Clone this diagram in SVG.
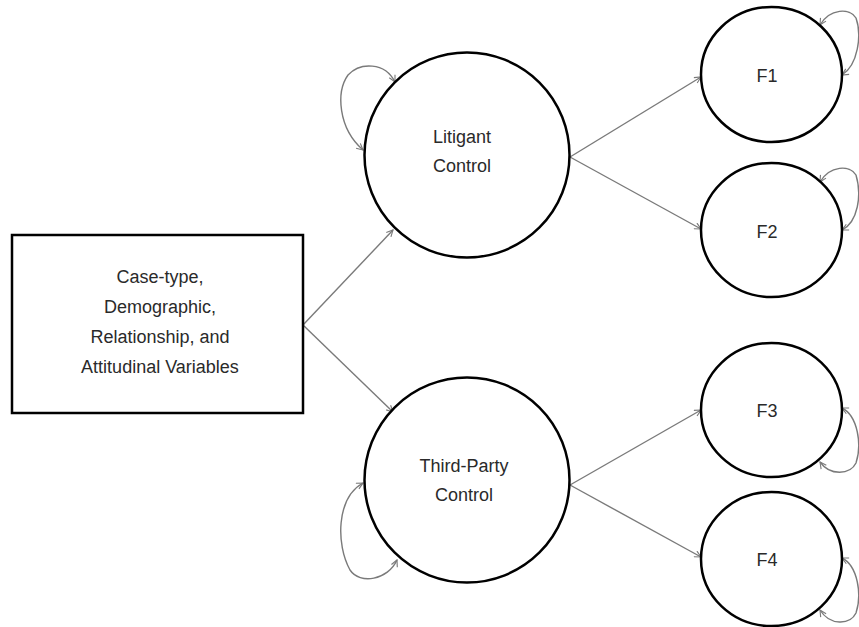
<svg xmlns="http://www.w3.org/2000/svg" width="859" height="627" viewBox="0 0 859 627">
<style>
.node{fill:#fff;stroke:#000;stroke-width:2.5}
.lbl{font-family:"Liberation Sans",Arial,sans-serif;font-size:18px;fill:#2a2a2a;text-anchor:middle}
.edge{fill:none;stroke:#7a7a7a;stroke-width:1.4}
</style>
<defs>
<marker id="ah" viewBox="0 0 10 10" refX="9" refY="5" markerWidth="8" markerHeight="8" markerUnits="userSpaceOnUse" orient="auto-start-reverse">
<path d="M1,1 L9,5 L1,9" fill="none" stroke="#7a7a7a" stroke-width="1.4"/>
</marker>
</defs>
<rect width="859" height="627" fill="#fff"/>
<g id="connectors">
<path class="edge" marker-end="url(#ah)" d="M303,325 L393,230"/>
<path class="edge" marker-end="url(#ah)" d="M303,325 L393,412"/>
<path class="edge" marker-end="url(#ah)" d="M570,157 L701,77"/>
<path class="edge" marker-end="url(#ah)" d="M570,157 L701,229"/>
<path class="edge" marker-end="url(#ah)" d="M570,485 L701,410"/>
<path class="edge" marker-end="url(#ah)" d="M570,485 L701,557"/>
<path class="edge" marker-start="url(#ah)" marker-end="url(#ah)" d="M395,82 C385,62 360,62 348,75 C336,92 338,128 363,150"/>
<path class="edge" marker-start="url(#ah)" marker-end="url(#ah)" d="M363,483 C336,498 336,545 350,570 C360,585 388,580 397,560"/>
<path class="edge" marker-start="url(#ah)" marker-end="url(#ah)" d="M820,25 C830,8 850,8 856,18 C862,35 858,65 842,75"/>
<path class="edge" marker-start="url(#ah)" marker-end="url(#ah)" d="M820,182 C830,165 850,165 856,175 C862,195 858,222 842,230"/>
<path class="edge" marker-start="url(#ah)" marker-end="url(#ah)" d="M842,408 C858,416 862,445 856,463 C850,475 830,476 820,462"/>
<path class="edge" marker-start="url(#ah)" marker-end="url(#ah)" d="M842,558 C858,566 862,595 856,613 C850,625 830,626 820,610"/>
</g>
<g id="source">
<rect class="node" x="12" y="235" width="291" height="178"/>
<text class="lbl" x="160" y="283">Case-type,</text>
<text class="lbl" x="160" y="313">Demographic,</text>
<text class="lbl" x="160" y="343">Relationship, and</text>
<text class="lbl" x="160" y="373">Attitudinal Variables</text>
</g>
<g id="litigant">
<circle class="node" cx="467" cy="155" r="102.5"/>
<text class="lbl" x="462" y="143">Litigant</text>
<text class="lbl" x="462" y="172">Control</text>
</g>
<g id="thirdparty">
<circle class="node" cx="467" cy="480" r="102.5"/>
<text class="lbl" x="464" y="472">Third-Party</text>
<text class="lbl" x="464" y="501">Control</text>
</g>
<g id="f1">
<ellipse class="node" cx="771.5" cy="74.5" rx="70.5" ry="67.5"/>
<text class="lbl" x="767" y="82">F1</text>
</g>
<g id="f2">
<ellipse class="node" cx="771.5" cy="230" rx="70.5" ry="67"/>
<text class="lbl" x="767" y="238">F2</text>
</g>
<g id="f3">
<ellipse class="node" cx="771.5" cy="410" rx="70.5" ry="67"/>
<text class="lbl" x="767" y="417">F3</text>
</g>
<g id="f4">
<ellipse class="node" cx="771.5" cy="559" rx="70.5" ry="67"/>
<text class="lbl" x="767" y="566">F4</text>
</g>
</svg>
